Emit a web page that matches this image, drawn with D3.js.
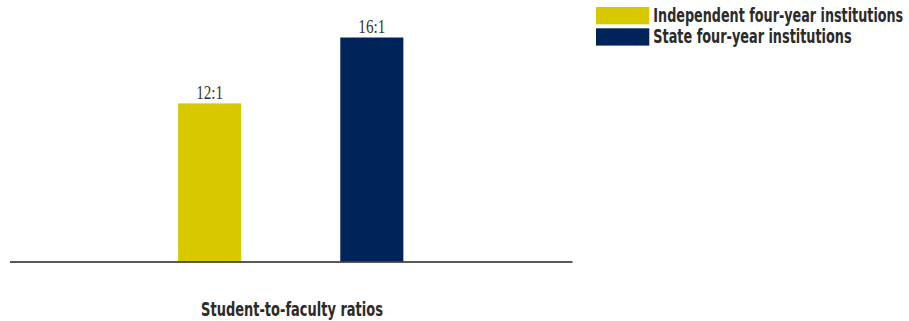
<!DOCTYPE html>
<html>
<head>
<meta charset="utf-8">
<script src="https://cdn.jsdelivr.net/npm/d3@7"></script>
<style>
  html, body { margin: 0; padding: 0; background: #fff; }
  svg { display: block; }
</style>
</head>
<body>
<svg id="chart" width="909" height="321"></svg>
<script>
const categories = ["Independent four-year institutions", "State four-year institutions"];
const values = [12, 16];
const valueLabels = ["12:1", "16:1"];
const colors = ["#D7C800", "#00245A"];
const axisTitle = "Student-to-faculty ratios";

const svg = d3.select("#chart");
const sansFont = "'Liberation Sans Narrow', 'DejaVu Sans Condensed', 'Roboto', sans-serif";
const serifFont = "'Liberation Serif', 'DejaVu Serif', serif";

// place a text so that it spans exactly `width` px horizontally, via a scale transform
function fitText(sel, x, y, width, anchor) {
  sel.each(function (d, i) {
    const t = d3.select(this);
    const w = typeof width === "function" ? width(d, i) : width;
    const px = typeof x === "function" ? x(d, i) : x;
    const py = typeof y === "function" ? y(d, i) : y;
    t.attr("x", 0).attr("y", 0).attr("text-anchor", anchor);
    const natural = this.getComputedTextLength();
    const k = w / natural;
    t.attr("transform", `translate(${px},${py}) scale(${k},1)`);
  });
}

const x = d3.scaleBand()
  .domain(categories)
  .range([9.5, 572])
  .paddingInner(0.611)
  .paddingOuter(1.04);

const y = d3.scaleLinear()
  .domain([2.4, 16])
  .range([261.5, 37.5]);

// bars
svg.selectAll("rect.bar")
  .data(categories)
  .join("rect")
  .attr("class", "bar")
  .attr("x", d => x(d))
  .attr("width", x.bandwidth())
  .attr("y", (d, i) => y(values[i]))
  .attr("height", (d, i) => y.range()[0] - y(values[i]))
  .attr("fill", (d, i) => colors[i]);

// value labels
svg.selectAll("text.val")
  .data(categories)
  .join("text")
  .attr("class", "val")
  .attr("font-family", serifFont)
  .attr("font-size", 19.5)
  .attr("fill", "#333")
  .text((d, i) => valueLabels[i])
  .call(fitText, d => x(d) + x.bandwidth() / 2, (d, i) => y(values[i]) - 4.5, 27, "middle");

// baseline axis
const axis = d3.axisBottom(x).tickSize(0).tickFormat("");
const gAxis = svg.append("g")
  .attr("transform", `translate(0,${y.range()[0]})`)
  .call(axis);
gAxis.select(".domain").attr("stroke", "#222").attr("stroke-width", 1.5);

// axis title
svg.append("text")
  .attr("font-family", sansFont)
  .attr("font-weight", "bold")
  .attr("font-size", 20)
  .attr("fill", "#2b2b2b")
  .text(axisTitle)
  .call(fitText, 292, 316, 182, "middle");

// legend
const legendWidths = [250, 198.5];
const legend = svg.append("g").attr("transform", "translate(596,7)");
const item = legend.selectAll("g")
  .data(categories)
  .join("g")
  .attr("transform", (d, i) => `translate(0,${i * 21.3})`);
item.append("rect")
  .attr("width", 53.3)
  .attr("height", 17.3)
  .attr("fill", (d, i) => colors[i]);
item.append("text")
  .attr("font-family", sansFont)
  .attr("font-weight", "bold")
  .attr("font-size", 19.5)
  .attr("fill", "#2b2b2b")
  .text(d => d)
  .call(fitText, 57.3, 14.6, (d, i) => legendWidths[i], "start");
</script>
</body>
</html>
